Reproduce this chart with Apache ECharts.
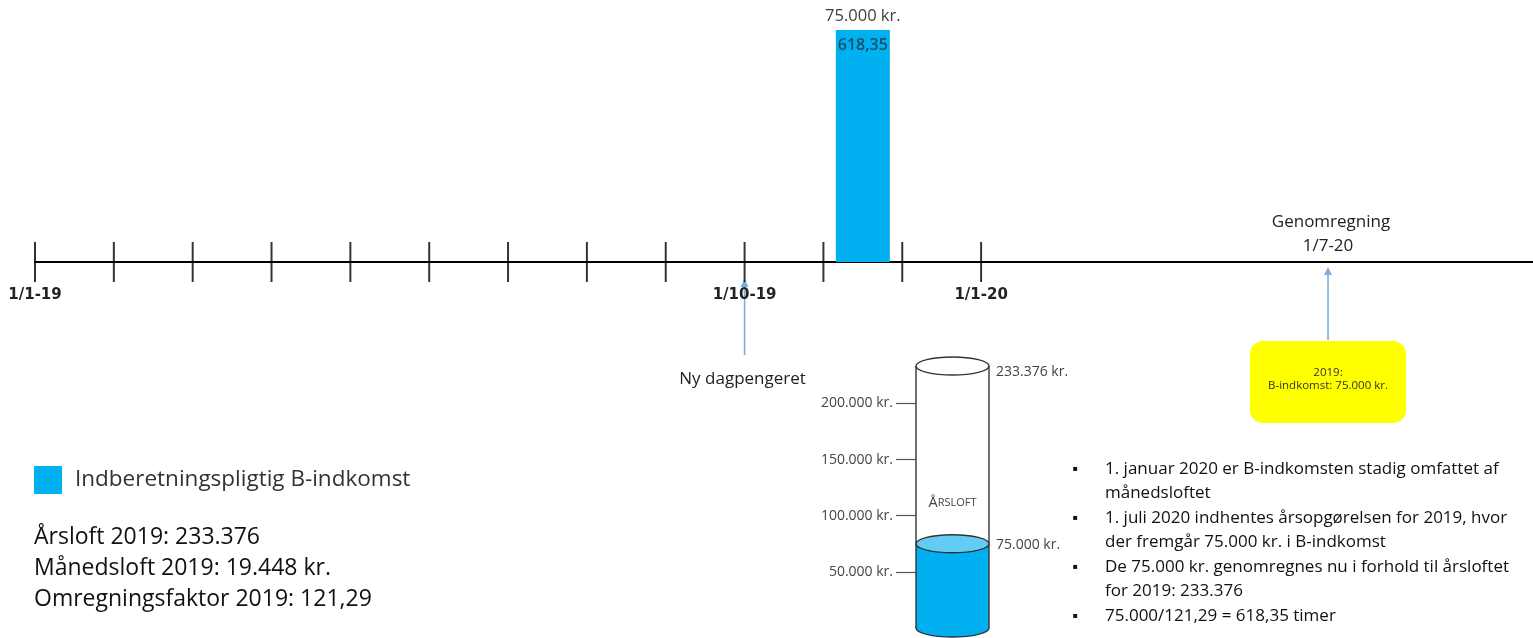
<!DOCTYPE html>
<html><head><meta charset="utf-8">
<script src="https://cdn.jsdelivr.net/npm/echarts@6/dist/echarts.min.js"></script>
<style>html,body{margin:0;padding:0;background:#fff}#c{width:1533px;height:638px}</style>
</head><body><div id="c"></div>
<script>
// ---- data ----
const timelineMonths = [0,1,2,3,4,5,6,7,8,9,10,11,12];
const timelineLabels = {0:'1/1-19', 9:'1/10-19', 12:'1/1-20'};
const barSeriesName = 'Indberetningspligtig B-indkomst';
const barMonths = [10.5];
const barValues = [75000];
const barTopLabels = ['75.000 kr.'];
const barInnerLabels = ['618,35'];
const gaugeCap = 233376;
const gaugeFill = 75000;
const gaugeTicks = [50000, 100000, 150000, 200000];
const gaugeCapLabel = '233.376 kr.';
const gaugeFillLabel = '75.000 kr.';
const arrowMonthNew = 9;
const arrowMonthRecalc = 16.4;
const arrowNewText = 'Ny dagpengeret';
const arrowRecalcText = ['Genomregning', '1/7-20'];
const yellowBoxText = ['2019:', 'B-indkomst: 75.000 kr.'];
const infoLines = ['Årsloft 2019: 233.376', 'Månedsloft 2019: 19.448 kr.', 'Omregningsfaktor 2019: 121,29'];
const bulletItems = [
  ['1. januar 2020 er B-indkomsten stadig omfattet af', 'månedsloftet'],
  ['1. juli 2020 indhentes årsopgørelsen for 2019, hvor', 'der fremgår 75.000 kr. i B-indkomst'],
  ['De 75.000 kr. genomregnes nu i forhold til årsloftet', 'for 2019: 233.376'],
  ['75.000/121,29 = 618,35 timer']
];

const FONT = 'Open Sans';
const BLUE = '#00B0F0';
const ARROW = '#7BAEE0';
function fmtKr(v){ return String(v).replace(/\B(?=(\d{3})+(?!\d))/g, '.') + ' kr.'; }

const chart = echarts.init(document.getElementById('c'), null, {renderer:'canvas'});

const option = {
  animation: false,
  backgroundColor: '#fff',
  legend: {
    data: [barSeriesName], left: 34, top: 466, padding: 0, icon: 'rect',
    itemWidth: 28, itemHeight: 28,
    textStyle: {fontFamily: FONT, fontSize: 22.5, color: '#333', padding: [0,0,0,8]}
  },
  grid: [
    {left: 35, right: 0, top: 30, height: 232, containLabel: false, outerBoundsMode: 'none'},
    {left: 916, width: 73, top: 366, height: 262, containLabel: false, outerBoundsMode: 'none'}
  ],
  xAxis: [
    {gridIndex: 0, type: 'value', min: 0, max: 19, interval: 1,
     axisLine: {show: true, lineStyle: {color: '#000', width: 2}},
     axisTick: {show: false}, splitLine: {show: false},
     axisLabel: {show: true, margin: 26, fontFamily: 'DejaVu Sans', fontSize: 15, fontWeight: 'bold', color: '#222',
       formatter: v => timelineLabels[v] || ''}},
    {gridIndex: 1, type: 'category', data: ['Årsloft'], show: false}
  ],
  yAxis: [
    {gridIndex: 0, type: 'value', min: 0, max: 75000, show: false},
    {gridIndex: 1, type: 'value', min: 0, max: gaugeCap,
     axisLine: {show: false}, splitLine: {show: false},
     axisTick: {show: true, length: 20, customValues: gaugeTicks, lineStyle: {color: '#555', width: 1.2}},
     axisLabel: {show: true, customValues: gaugeTicks, margin: 23, fontFamily: FONT, fontSize: 14, color: '#444',
       formatter: v => fmtKr(v)}}
  ],
  series: [
    {name: 'ticks', type: 'scatter', xAxisIndex: 0, yAxisIndex: 0, silent: true, clip: false,
     symbol: 'rect', symbolSize: [2, 40], itemStyle: {color: '#000'},
     data: timelineMonths.map(m => [m, 0]), z: 3},
    {name: barSeriesName, type: 'bar', xAxisIndex: 0, yAxisIndex: 0, barWidth: 54,
     itemStyle: {color: BLUE},
     label: {show: true, position: 'top', distance: 5, fontFamily: FONT, fontSize: 16.5, color: '#404040',
       formatter: p => barTopLabels[p.dataIndex]},
     data: barMonths.map((m, i) => [m, barValues[i]])},
    {name: 'inner', type: 'scatter', xAxisIndex: 0, yAxisIndex: 0, symbolSize: 0, silent: true, clip: false,
     label: {show: true, position: 'bottom', distance: 7, fontFamily: FONT, fontSize: 16, fontWeight: 600, color: '#1B3445',
       formatter: p => barInnerLabels[p.dataIndex]},
     data: barMonths.map((m, i) => [m, barValues[i]]), z: 5},
    {name: 'gauge', type: 'custom', xAxisIndex: 1, yAxisIndex: 1, clip: false, silent: true,
     data: [[0, gaugeCap, gaugeFill]],
     encode: {x: 0, y: 1},
     renderItem: function (params, api) {
       const cap = api.value(1), fill = api.value(2);
       const base = api.coord([0, 0]);
       const yCap = api.coord([0, cap])[1];
       const yFill = api.coord([0, fill])[1];
       const w = api.size([1, 0])[0];
       const rx = w / 2, ry = 9, cx = base[0], yb = base[1];
       const st = {stroke: '#333', lineWidth: 1.4};
       return {type: 'group', children: [
         {type: 'rect', shape: {x: cx - rx, y: yCap, width: w, height: yb - yCap}, style: {fill: '#fff'}},
         {type: 'ellipse', shape: {cx: cx, cy: yb, rx: rx, ry: ry}, style: Object.assign({fill: BLUE}, st)},
         {type: 'rect', shape: {x: cx - rx, y: yFill, width: w, height: yb - yFill}, style: {fill: BLUE}},
         {type: 'line', shape: {x1: cx - rx, y1: yCap, x2: cx - rx, y2: yb}, style: st},
         {type: 'line', shape: {x1: cx + rx, y1: yCap, x2: cx + rx, y2: yb}, style: st},
         {type: 'ellipse', shape: {cx: cx, cy: yFill, rx: rx, ry: ry}, style: Object.assign({fill: '#62CCF4'}, st)},
         {type: 'ellipse', shape: {cx: cx, cy: yCap, rx: rx, ry: ry}, style: Object.assign({fill: '#fff'}, st)},
         {type: 'text', style: {x: cx, y: yFill - 41, align: 'center', verticalAlign: 'middle',
           text: '{a|Å}{b|RSLOFT}', rich: {a: {fontFamily: FONT, fontSize: 14.5, fill: '#444'}, b: {fontFamily: FONT, fontSize: 11, fill: '#444'}}}},
         {type: 'text', style: {x: cx + rx + 7, y: yCap + 6, align: 'left', verticalAlign: 'middle',
           text: gaugeCapLabel, fontFamily: FONT, fontSize: 14, fill: '#444'}},
         {type: 'text', style: {x: cx + rx + 7, y: yFill + 1, align: 'left', verticalAlign: 'middle',
           text: gaugeFillLabel, fontFamily: FONT, fontSize: 14, fill: '#444'}}
       ]};
     }}
  ]
};
chart.setOption(option);

// annotations positioned from the axis scale
const xNew = chart.convertToPixel({xAxisIndex: 0}, arrowMonthNew);
const xRec = chart.convertToPixel({xAxisIndex: 0}, arrowMonthRecalc);
function arrow(x, yTop, yBottom) {
  return {type: 'group', silent: true, children: [
    {type: 'line', shape: {x1: x, y1: yBottom, x2: x, y2: yTop + 7}, style: {stroke: ARROW, lineWidth: 1.6}},
    {type: 'polygon', shape: {points: [[x, yTop], [x - 4, yTop + 8], [x + 4, yTop + 8]]}, style: {fill: ARROW}}
  ]};
}
const graphics = [
  arrow(xNew, 279, 355),
  arrow(xRec, 267, 340),
  {type: 'text', silent: true, style: {x: xNew - 2, y: 379, align: 'center', verticalAlign: 'middle', text: arrowNewText, fontFamily: FONT, fontSize: 17, fill: '#222'}},
  {type: 'text', silent: true, style: {x: xRec + 3, y: 222, align: 'center', verticalAlign: 'middle', text: arrowRecalcText[0], fontFamily: FONT, fontSize: 17, fill: '#222'}},
  {type: 'text', silent: true, style: {x: xRec, y: 246, align: 'center', verticalAlign: 'middle', text: arrowRecalcText[1], fontFamily: FONT, fontSize: 17, fill: '#222'}},
  {type: 'rect', silent: true, shape: {x: xRec - 78, y: 341, width: 156, height: 82, r: 13}, style: {fill: '#FFFF00'}},
  {type: 'text', silent: true, style: {x: xRec, y: 373, align: 'center', verticalAlign: 'middle', text: yellowBoxText[0], fontFamily: FONT, fontSize: 11.5, fill: '#333'}},
  {type: 'text', silent: true, style: {x: xRec, y: 386, align: 'center', verticalAlign: 'middle', text: yellowBoxText[1], fontFamily: FONT, fontSize: 11.5, fill: '#333'}}
];
infoLines.forEach((t, i) => {
  graphics.push({type: 'text', silent: true, style: {x: 34, y: 537 + i * 31, align: 'left', verticalAlign: 'middle', text: t, fontFamily: FONT, fontSize: 23, fill: '#111'}});
});
let line = 0;
bulletItems.forEach(item => {
  graphics.push({type: 'text', silent: true, style: {x: 1075, y: 469 + line * 24.5, align: 'center', verticalAlign: 'middle', text: '▪', fontFamily: 'DejaVu Sans', fontSize: 8, fill: '#111'}});
  item.forEach(t => {
    graphics.push({type: 'text', silent: true, style: {x: 1105, y: 469 + line * 24.5, align: 'left', verticalAlign: 'middle', text: t, fontFamily: FONT, fontSize: 17, fill: '#111'}});
    line++;
  });
});
chart.setOption({graphic: graphics});
</script></body></html>
